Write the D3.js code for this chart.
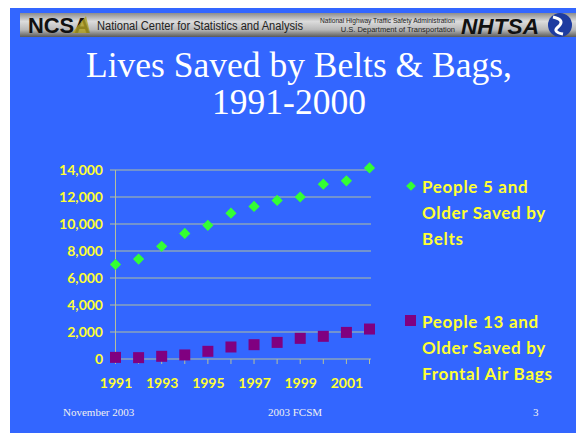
<!DOCTYPE html>
<html>
  <head>
    <script src="https://cdnjs.cloudflare.com/ajax/libs/d3/7.8.5/d3.min.js"></script>
    <style type="text/css">
      body { margin: 0; padding: 0; background: #fff; }
      svg { display: block; }
    </style>
  </head>
  <body>
    <div id="chart"></div>
    <script type="text/javascript">
    const years = [1991, 1992, 1993, 1994, 1995, 1996, 1997, 1998, 1999, 2000, 2001, 2002];
    const yearLabels = [1991, 1993, 1995, 1997, 1999, 2001];
    const beltsSaved = [7000, 7400, 8350, 9300, 9900, 10800, 11300, 11750, 12000, 12950, 13200, 14150];
    const bagsSaved = [120, 100, 200, 300, 570, 890, 1060, 1230, 1530, 1680, 1970, 2220];
    const yTicks = [0, 2000, 4000, 6000, 8000, 10000, 12000, 14000];
    const legendBelts = ['People 5 and', 'Older Saved by', 'Belts'];
    const legendBags = ['People 13 and', 'Older Saved by', 'Frontal Air Bags'];

    const W = 576, H = 435;
    const yellow = '#ffff33';
    const gridColor = '#b4c09c';
    const labelFont = '"Comic Sans MS", "Lato", "Open Sans", sans-serif';

    const svg = d3.select('#chart').append('svg')
      .attr('width', W)
      .attr('height', H);

    // slide background
    svg.append('rect')
      .attr('x', 10).attr('y', 8)
      .attr('width', W - 10).attr('height', 425)
      .attr('fill', '#3366ff');

    // header bar
    const grad = svg.append('defs').append('linearGradient')
      .attr('id', 'hdr').attr('x1', 0).attr('x2', 0).attr('y1', 0).attr('y2', 1);
    [['0%', '#8c8c8c'], ['35%', '#dcdcdc'], ['70%', '#b8b8b8'], ['100%', '#5a5a5a']].forEach(s => {
      grad.append('stop').attr('offset', s[0]).attr('stop-color', s[1]);
    });
    svg.append('rect')
      .attr('x', 20).attr('y', 13)
      .attr('width', W - 20).attr('height', 24)
      .attr('fill', 'url(#hdr)');

    svg.append('text')
      .attr('x', 28).attr('y', 33)
      .attr('font-family', 'Liberation Sans, Arial, sans-serif')
      .attr('font-size', 22).attr('font-weight', 'bold')
      .attr('fill', '#111')
      .attr('textLength', 62).attr('lengthAdjust', 'spacingAndGlyphs')
      .text('NCSA');
    svg.append('path')
      .attr('d', 'M72,33 L86,16 L90,33 Z')
      .attr('fill', '#b0a020').attr('opacity', 0.8);
    svg.append('text')
      .attr('x', 97).attr('y', 30)
      .attr('font-family', 'Liberation Sans, Arial, sans-serif')
      .attr('font-size', 12.5)
      .attr('fill', '#222')
      .attr('textLength', 206).attr('lengthAdjust', 'spacingAndGlyphs')
      .text('National Center for Statistics and Analysis');
    svg.append('text')
      .attr('x', 455).attr('y', 23)
      .attr('text-anchor', 'end')
      .attr('font-family', 'Liberation Sans, Arial, sans-serif')
      .attr('font-size', 7.5)
      .attr('fill', '#222')
      .attr('textLength', 135).attr('lengthAdjust', 'spacingAndGlyphs')
      .text('National Highway Traffic Safety Administration');
    svg.append('text')
      .attr('x', 455).attr('y', 32)
      .attr('text-anchor', 'end')
      .attr('font-family', 'Liberation Sans, Arial, sans-serif')
      .attr('font-size', 7.5)
      .attr('fill', '#222')
      .text('U.S. Department of Transportation');
    svg.append('text')
      .attr('x', 461).attr('y', 34)
      .attr('font-family', 'Liberation Sans, Arial, sans-serif')
      .attr('font-size', 22).attr('font-weight', 'bold').attr('font-style', 'italic')
      .attr('fill', '#111')
      .attr('textLength', 78).attr('lengthAdjust', 'spacingAndGlyphs')
      .text('NHTSA');
    svg.append('circle')
      .attr('cx', 560).attr('cy', 25).attr('r', 12)
      .attr('fill', '#1e3ca0');
    svg.append('path')
      .attr('d', 'M553,17 Q566,20 558,27 Q552,32 563,34')
      .attr('fill', 'none').attr('stroke', '#fff').attr('stroke-width', 3);

    // title
    const title = svg.append('text')
      .attr('text-anchor', 'middle')
      .attr('font-family', '"Liberation Serif", "Times New Roman", serif')
      .attr('font-size', 35.5)
      .attr('fill', '#fff');
    title.append('tspan').attr('x', 299).attr('y', 77).text('Lives Saved by Belts & Bags,');
    title.append('tspan').attr('x', 289).attr('y', 114).text('1991-2000');

    // scales
    const x = d3.scaleLinear().domain([1991, 2002]).range([115.5, 369.5]);
    const y = d3.scaleLinear().domain([0, 14000]).range([359, 170]);

    // gridlines
    svg.append('g')
      .selectAll('line')
      .data(yTicks)
      .join('line')
      .attr('x1', 110).attr('x2', 371)
      .attr('y1', d => y(d)).attr('y2', d => y(d))
      .attr('stroke', gridColor).attr('stroke-width', 1);

    // y axis line
    svg.append('line')
      .attr('x1', x(1991)).attr('x2', x(1991))
      .attr('y1', y(14000)).attr('y2', y(0))
      .attr('stroke', gridColor);

    // x ticks
    svg.append('g')
      .selectAll('line')
      .data(years)
      .join('line')
      .attr('x1', d => x(d)).attr('x2', d => x(d))
      .attr('y1', y(0)).attr('y2', y(0) + 5)
      .attr('stroke', gridColor);

    // y labels
    const yAxis = d3.axisLeft(y)
      .tickValues(yTicks)
      .tickSize(0)
      .tickPadding(0)
      .tickFormat(d3.format(','));
    svg.append('g')
      .attr('transform', 'translate(103,0)')
      .call(yAxis)
      .call(g => g.select('.domain').remove())
      .selectAll('text')
      .attr('fill', yellow)
      .attr('font-family', labelFont)
      .attr('font-size', 14)
      .attr('font-weight', 'bold');

    // x labels
    const xAxis = d3.axisBottom(x)
      .tickValues(yearLabels)
      .tickSize(0)
      .tickPadding(0)
      .tickFormat(d3.format('d'));
    svg.append('g')
      .attr('transform', 'translate(0,378)')
      .call(xAxis)
      .call(g => g.select('.domain').remove())
      .selectAll('text')
      .attr('fill', yellow)
      .attr('font-family', labelFont)
      .attr('font-size', 14)
      .attr('font-weight', 'bold');

    // markers
    const diamond = d3.symbol().type(d3.symbolDiamond2).size(80);
    svg.append('g')
      .selectAll('path')
      .data(years)
      .join('path')
      .attr('d', diamond)
      .attr('transform', (d, i) => `translate(${x(d)},${y(beltsSaved[i])})`)
      .attr('fill', '#33ff33');

    svg.append('g')
      .selectAll('rect')
      .data(years)
      .join('rect')
      .attr('x', d => x(d) - 5.5)
      .attr('y', (d, i) => y(bagsSaved[i]) - 5.5)
      .attr('width', 11).attr('height', 11)
      .attr('fill', '#800080');

    // legend
    function legend(lines, y0) {
      const t = svg.append('text')
        .attr('font-family', labelFont)
        .attr('font-size', 17)
        .attr('font-weight', 'bold')
        .attr('letter-spacing', 0.7)
        .attr('fill', yellow);
      lines.forEach((l, i) => {
        t.append('tspan').attr('x', 422).attr('y', y0 + i * 26).text(l);
      });
    }
    svg.append('path')
      .attr('d', d3.symbol().type(d3.symbolDiamond2).size(60))
      .attr('transform', 'translate(411,186)')
      .attr('fill', '#33ff33');
    legend(legendBelts, 193);
    svg.append('rect')
      .attr('x', 405).attr('y', 315)
      .attr('width', 11).attr('height', 11)
      .attr('fill', '#800080');
    legend(legendBags, 328);

    // footer
    const footer = [['November 2003', 63], ['2003 FCSM', 268], ['3', 533]];
    svg.append('g')
      .selectAll('text')
      .data(footer)
      .join('text')
      .attr('x', d => d[1]).attr('y', 416)
      .attr('font-family', '"Liberation Serif", "Times New Roman", serif')
      .attr('font-size', 11)
      .attr('fill', '#f0f0f0')
      .text(d => d[0]);
    </script>
  </body>
</html>
